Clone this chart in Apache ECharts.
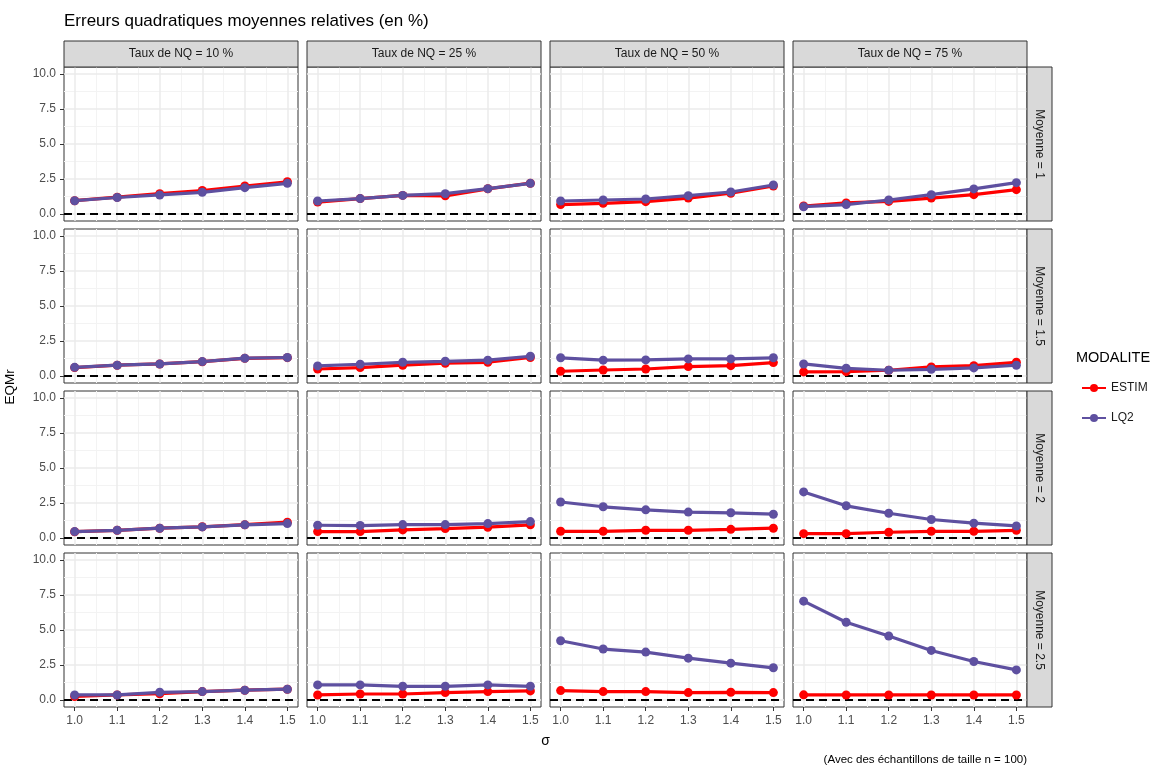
<!DOCTYPE html>
<html>
<head>
<meta charset="utf-8">
<title>Erreurs quadratiques moyennes relatives</title>
<script src="https://cdn.jsdelivr.net/npm/echarts@6/dist/echarts.min.js"></script>
<style>
  html, body { margin: 0; padding: 0; background: #fff; }
  #chart { width: 1154px; height: 767px; }
</style>
</head>
<body>
<div id="chart"></div>
<script>
// Simulation results: relative RMSE (%) by sigma, for each NQ rate (columns) and mean (rows)
const sigma = [1.0, 1.1, 1.2, 1.3, 1.4, 1.5];
const yTicks = [0, 2.5, 5, 7.5, 10];
const tauxNQ = ['Taux de NQ = 10 %', 'Taux de NQ = 25 %', 'Taux de NQ = 50 %', 'Taux de NQ = 75 %'];
const moyennes = ['Moyenne = 1', 'Moyenne = 1.5', 'Moyenne = 2', 'Moyenne = 2.5'];

// Each array holds one list per NQ rate (10 %, 25 %, 50 %, 75 %)
const estimMoy1 = [
  [0.95, 1.20, 1.45, 1.68, 2.00, 2.30],
  [0.85, 1.10, 1.33, 1.30, 1.80, 2.20],
  [0.67, 0.76, 0.88, 1.14, 1.48, 2.00],
  [0.57, 0.79, 0.90, 1.14, 1.38, 1.74]
];
const lq2Moy1 = [
  [0.95, 1.18, 1.36, 1.55, 1.88, 2.19],
  [0.93, 1.10, 1.33, 1.45, 1.81, 2.19],
  [0.93, 1.00, 1.07, 1.31, 1.57, 2.07],
  [0.52, 0.67, 1.00, 1.38, 1.79, 2.24]
];
const estimMoy15 = [
  [0.60, 0.77, 0.86, 1.02, 1.26, 1.31],
  [0.50, 0.60, 0.77, 0.91, 0.98, 1.32],
  [0.34, 0.43, 0.50, 0.67, 0.74, 0.96],
  [0.29, 0.31, 0.41, 0.65, 0.74, 0.98]
];
const lq2Moy15 = [
  [0.62, 0.77, 0.86, 1.03, 1.27, 1.32],
  [0.72, 0.84, 0.98, 1.05, 1.13, 1.41],
  [1.30, 1.13, 1.15, 1.22, 1.22, 1.30],
  [0.86, 0.55, 0.41, 0.48, 0.58, 0.77]
];
const estimMoy2 = [
  [0.45, 0.55, 0.70, 0.80, 0.95, 1.13],
  [0.46, 0.46, 0.58, 0.67, 0.77, 0.94],
  [0.48, 0.48, 0.55, 0.55, 0.62, 0.70],
  [0.31, 0.31, 0.41, 0.48, 0.48, 0.55]
];
const lq2Moy2 = [
  [0.46, 0.55, 0.70, 0.79, 0.94, 1.03],
  [0.91, 0.89, 0.96, 0.96, 1.03, 1.17],
  [2.57, 2.23, 2.01, 1.85, 1.80, 1.70],
  [3.29, 2.30, 1.77, 1.32, 1.06, 0.86]
];
const estimMoy25 = [
  [0.25, 0.36, 0.45, 0.60, 0.70, 0.77],
  [0.36, 0.43, 0.43, 0.53, 0.60, 0.65],
  [0.67, 0.60, 0.60, 0.53, 0.55, 0.53],
  [0.37, 0.36, 0.36, 0.36, 0.36, 0.36]
];
const lq2Moy25 = [
  [0.36, 0.36, 0.55, 0.60, 0.70, 0.77],
  [1.08, 1.08, 0.98, 0.98, 1.08, 0.98],
  [4.23, 3.64, 3.42, 2.99, 2.63, 2.30],
  [7.06, 5.55, 4.57, 3.54, 2.75, 2.15]
];

const estimRows = [estimMoy1, estimMoy15, estimMoy2, estimMoy25];
const lq2Rows = [lq2Moy1, lq2Moy15, lq2Moy2, lq2Moy25];

// Facet layout (pixels)
const colLeft = [64, 307, 550, 793];
const rowTop = [67, 229, 391, 553];
const panelW = 234, panelH = 154;
const stripH = 26, stripW = 25;

const COLOR_ESTIM = '#FF0000';
const COLOR_LQ2 = '#5E50A0';
const GRID_MAJOR = '#EBEBEB';
const GRID_MINOR = '#F3F3F3';
const FONT = '"Liberation Sans", Arial, sans-serif';

const xMinor = [1.05, 1.15, 1.25, 1.35, 1.45];
const yMinor = [1.25, 3.75, 6.25, 8.75];

const grids = [], xAxes = [], yAxes = [], series = [], graphics = [];

for (let r = 0; r < 4; r++) {
  for (let c = 0; c < 4; c++) {
    const idx = r * 4 + c;
    grids.push({
      left: colLeft[c], top: rowTop[r], width: panelW, height: panelH,
      show: true, backgroundColor: '#FFFFFF', borderColor: '#333333', borderWidth: 1,
      z: 0
    });
    const bottomRow = r === 3, leftCol = c === 0;
    xAxes.push({
      gridIndex: idx, type: 'value', min: 0.975, max: 1.525,
      axisLine: { show: false, onZero: false },
      splitLine: { show: false },
      axisTick: { show: bottomRow, customValues: sigma, length: 4, lineStyle: { color: '#333333', width: 1 } },
      axisLabel: {
        show: bottomRow, customValues: sigma, margin: 8,
        formatter: v => Number(v).toFixed(1),
        color: '#4D4D4D', fontSize: 12, fontFamily: FONT
      }
    });
    yAxes.push({
      gridIndex: idx, type: 'value', min: -0.5, max: 10.5,
      axisLine: { show: false, onZero: false },
      splitLine: { show: false },
      axisTick: { show: leftCol, customValues: yTicks, length: 4, lineStyle: { color: '#333333', width: 1 } },
      axisLabel: {
        show: leftCol, customValues: yTicks, margin: 8,
        formatter: v => Number(v).toFixed(1),
        color: '#4D4D4D', fontSize: 12, fontFamily: FONT
      }
    });

    // Panel grid lines and the dashed reference line at 0, kept beneath the data
    const lines = [];
    xMinor.forEach(v => lines.push({ xAxis: v, lineStyle: { color: GRID_MINOR, width: 1, type: 'solid' } }));
    yMinor.forEach(v => lines.push({ yAxis: v, lineStyle: { color: GRID_MINOR, width: 1, type: 'solid' } }));
    sigma.forEach(v => lines.push({ xAxis: v, lineStyle: { color: GRID_MAJOR, width: 1.5, type: 'solid' } }));
    yTicks.forEach(v => lines.push({ yAxis: v, lineStyle: { color: GRID_MAJOR, width: 1.5, type: 'solid' } }));
    lines.push({ yAxis: 0, lineStyle: { color: '#000000', width: 2, type: [8, 5] } });
    series.push({
      type: 'line', xAxisIndex: idx, yAxisIndex: idx, data: [], z: 1, silent: true,
      markLine: { z: 1, silent: true, symbol: ['none', 'none'], label: { show: false }, animation: false, data: lines }
    });

    const est = estimRows[r][c], lq = lq2Rows[r][c];
    series.push({
      name: 'ESTIM', type: 'line', xAxisIndex: idx, yAxisIndex: idx, z: 3,
      data: sigma.map((s, i) => [s, est[i]]),
      symbol: 'circle', symbolSize: 9, color: COLOR_ESTIM,
      lineStyle: { width: 3.2, color: COLOR_ESTIM }, itemStyle: { color: COLOR_ESTIM, borderWidth: 0 }
    });
    series.push({
      name: 'LQ2', type: 'line', xAxisIndex: idx, yAxisIndex: idx, z: 4,
      data: sigma.map((s, i) => [s, lq[i]]),
      symbol: 'circle', symbolSize: 9, color: COLOR_LQ2,
      lineStyle: { width: 3.2, color: COLOR_LQ2 }, itemStyle: { color: COLOR_LQ2, borderWidth: 0 }
    });
  }
}

// Column strips (top)
tauxNQ.forEach((label, c) => {
  graphics.push({
    type: 'rect', z: 10,
    shape: { x: colLeft[c], y: rowTop[0] - stripH, width: panelW, height: stripH },
    style: { fill: '#D9D9D9', stroke: '#333333', lineWidth: 1 }
  });
  graphics.push({
    type: 'text', z: 11, x: colLeft[c] + panelW / 2, y: rowTop[0] - stripH / 2,
    style: { text: label, fill: '#1A1A1A', font: '12px ' + FONT,
      align: 'center', verticalAlign: 'middle', textAlign: 'center', textVerticalAlign: 'middle' }
  });
});
// Row strips (right)
const stripX = colLeft[3] + panelW;
moyennes.forEach((label, r) => {
  graphics.push({
    type: 'rect', z: 10,
    shape: { x: stripX, y: rowTop[r], width: stripW, height: panelH },
    style: { fill: '#D9D9D9', stroke: '#333333', lineWidth: 1 }
  });
  graphics.push({
    type: 'text', z: 11, x: stripX + stripW / 2, y: rowTop[r] + panelH / 2, rotation: -Math.PI / 2,
    style: { text: label, fill: '#1A1A1A', font: '12px ' + FONT,
      align: 'center', verticalAlign: 'middle', textAlign: 'center', textVerticalAlign: 'middle' }
  });
});

// Titles and captions
graphics.push({
  type: 'text', x: colLeft[0], y: 21,
  style: { text: 'Erreurs quadratiques moyennes relatives (en %)', fill: '#000000', font: '17px ' + FONT,
    align: 'left', verticalAlign: 'middle', textAlign: 'left', textVerticalAlign: 'middle' }
});
graphics.push({
  type: 'text', x: 10, y: (rowTop[0] + rowTop[3] + panelH) / 2, rotation: Math.PI / 2,
  style: { text: 'EQMr', fill: '#000000', font: '13.5px ' + FONT,
    align: 'center', verticalAlign: 'middle', textAlign: 'center', textVerticalAlign: 'middle' }
});
graphics.push({
  type: 'text', x: (colLeft[0] + colLeft[3] + panelW) / 2, y: 741,
  style: { text: 'σ', fill: '#000000', font: '14px ' + FONT,
    align: 'center', verticalAlign: 'middle', textAlign: 'center', textVerticalAlign: 'middle' }
});
graphics.push({
  type: 'text', x: colLeft[3] + panelW, y: 760,
  style: { text: '(Avec des échantillons de taille n = 100)', fill: '#000000', font: '11.5px ' + FONT,
    align: 'right', verticalAlign: 'middle', textAlign: 'right', textVerticalAlign: 'middle' }
});
graphics.push({
  type: 'text', x: 1076, y: 358,
  style: { text: 'MODALITE', fill: '#000000', font: '14.5px ' + FONT,
    align: 'left', verticalAlign: 'middle', textAlign: 'left', textVerticalAlign: 'middle' }
});

const chart = echarts.init(document.getElementById('chart'), null, { renderer: 'canvas' });
chart.setOption({
  animation: false,
  backgroundColor: '#FFFFFF',
  textStyle: { fontFamily: FONT },
  grid: grids,
  xAxis: xAxes,
  yAxis: yAxes,
  legend: {
    data: ['ESTIM', 'LQ2'],
    orient: 'vertical', left: 1076, top: 377,
    itemWidth: 24, itemHeight: 10, itemGap: 18,
    textStyle: { color: '#1A1A1A', fontSize: 12, fontFamily: FONT },
    selectedMode: false
  },
  series: series,
  graphic: { elements: graphics }
});
</script>
</body>
</html>
